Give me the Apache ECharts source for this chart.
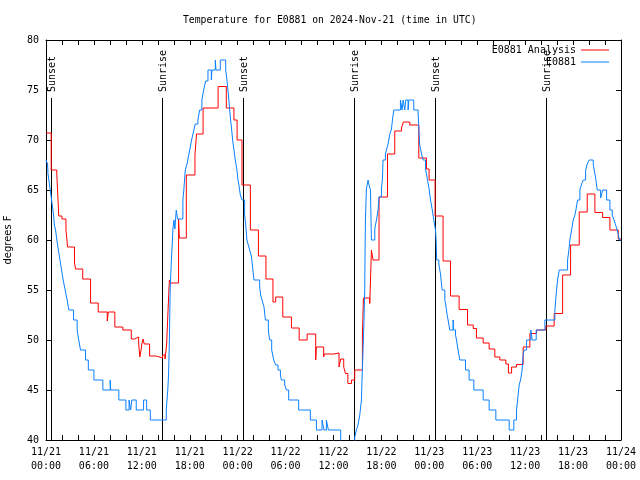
<!DOCTYPE html>
<html>
<head>
<meta charset="utf-8">
<script src="https://cdn.jsdelivr.net/npm/echarts@6.0.0/dist/echarts.min.js"></script>
<style>html,body{margin:0;padding:0;background:#fff}#c{width:640px;height:480px}</style>
</head>
<body>
<div id="c"></div>
<script>
// ---- data (hours since 2024-11-21 00:00 UTC, degrees F) ----
const analysisTimes = [0, 0.65, 1.35, 1.6, 2.0, 2.5, 2.62, 2.7, 3.57, 3.7, 4.6, 5.58, 6.54, 7.67, 7.8, 8.62, 9.62, 10.68, 11.09, 11.6, 11.75, 11.9, 12.0, 12.15, 12.3, 12.97, 13.8, 14.6, 14.9, 15.1, 15.3, 15.45, 15.65, 16.6, 16.7, 17.57, 18.65, 18.85, 19.67, 21.55, 22.58, 23.53, 23.93, 24.54, 25.59, 26.6, 27.54, 28.42, 28.76, 29.65, 30.73, 31.7, 32.7, 33.77, 33.85, 34.77, 34.85, 36.03, 36.69, 36.9, 37.28, 37.5, 37.8, 38.25, 38.66, 39.62, 39.75, 40.54, 40.75, 40.95, 41.7, 42.76, 43.67, 44.51, 44.75, 45.55, 46.68, 47.64, 47.97, 48.72, 49.72, 50.65, 51.73, 52.78, 53.5, 53.9, 54.74, 55.49, 56.2, 56.83, 57.58, 57.9, 58.3, 58.92, 59.75, 60.59, 61.43, 62.59, 63.63, 64.69, 65.69, 66.77, 67.77, 68.73, 69.7, 70.61, 71.65, 72];
const analysisTemps = [70.7, 67.0, 66.6, 62.4, 62.1, 61.0, 60.0, 59.3, 57.7, 57.1, 56.1, 53.7, 52.8, 51.9, 52.8, 51.3, 51.0, 50.1, 50.3, 49.7, 48.3, 49.0, 49.6, 50.1, 49.6, 48.4, 48.2, 48.5, 48.1, 49.5, 53.3, 56.0, 55.7, 62.1, 60.2, 66.5, 68.5, 70.6, 73.2, 75.35, 73.2, 72.0, 70.0, 65.5, 61.0, 58.4, 56.1, 53.8, 54.3, 52.3, 51.2, 50.0, 50.6, 48.0, 49.3, 48.3, 48.6, 48.7, 47.3, 48.1, 47.3, 46.65, 45.65, 46.0, 47.0, 50.6, 54.2, 53.65, 59.0, 58.0, 64.3, 68.6, 70.9, 71.2, 71.8, 71.5, 68.2, 67.1, 66.0, 62.4, 57.9, 54.4, 53.05, 51.5, 51.15, 50.2, 49.7, 49.1, 48.3, 48.0, 47.6, 46.7, 47.3, 47.55, 49.3, 50.65, 51.0, 51.4, 52.65, 56.5, 59.5, 62.8, 64.6, 62.75, 62.25, 61.0, 60.1, 60.1];

const obsTimes = [0, 0.2, 0.25, 0.45, 0.6, 0.75, 0.95, 1.05, 1.2, 1.36, 1.55, 1.75, 1.95, 2.15, 2.4, 2.65, 2.86, 3.45, 3.9, 4.1, 4.32, 4.95, 5.3, 6.0, 7.12, 8.04, 8.1, 9.12, 10.0, 10.4, 10.6, 10.75, 11.3, 12.22, 12.6, 13.06, 15.06, 15.15, 15.25, 15.35, 15.45, 15.55, 15.7, 15.8, 15.89, 16.02, 16.14, 16.31, 16.48, 17.14, 17.27, 17.44, 17.57, 17.69, 17.9, 18.07, 18.23, 18.4, 18.52, 18.69, 19.02, 19.24, 19.52, 19.74, 19.99, 20.28, 20.7, 20.78, 21.2, 21.28, 21.83, 22.5, 22.66, 22.78, 22.9, 23.0, 23.12, 23.25, 23.37, 23.54, 23.7, 23.91, 24.04, 24.16, 24.33, 24.54, 24.87, 25.0, 25.16, 25.33, 25.5, 25.71, 25.83, 25.91, 26.04, 26.75, 26.88, 27.05, 27.3, 27.47, 27.84, 28.0, 28.26, 28.51, 28.76, 29.05, 29.35, 29.47, 29.89, 30.1, 30.39, 31.64, 33.1, 33.86, 34.56, 34.81, 35.11, 35.36, 36.9, 38.66, 38.87, 39.07, 39.29, 39.5, 39.57, 39.7, 39.82, 39.91, 39.96, 40.0, 40.12, 40.33, 40.45, 40.63, 40.75, 41.17, 41.38, 41.58, 41.7, 42.0, 42.13, 42.2, 42.5, 42.63, 42.83, 43.05, 43.26, 43.38, 43.55, 44.38, 44.59, 44.72, 44.92, 45.05, 45.34, 45.43, 46.05, 46.6, 46.72, 46.8, 47.02, 47.22, 47.52, 47.64, 47.77, 47.97, 48.15, 48.35, 48.56, 48.77, 48.85, 48.92, 49.19, 49.4, 49.52, 49.6, 49.94, 50.06, 50.23, 50.35, 50.56, 50.98, 51.02, 51.28, 51.4, 51.6, 51.82, 52.53, 52.98, 53.57, 54.74, 55.49, 56.33, 58.0, 58.58, 58.92, 59.05, 59.25, 59.42, 59.62, 59.75, 59.87, 60.18, 60.71, 60.88, 61.38, 62.47, 63.72, 63.93, 64.06, 64.26, 65.31, 65.48, 65.6, 65.81, 66.02, 66.23, 66.35, 66.56, 66.85, 67.07, 67.27, 67.57, 67.77, 68.02, 68.52, 68.65, 68.86, 69.02, 69.45, 69.7, 70.2, 70.61, 70.9, 71.12, 71.37, 71.62, 71.8, 72];
const obsTemps = [68.0, 67.6, 66.6, 65.5, 64.6, 63.7, 62.5, 61.5, 61.0, 60.0, 59.0, 58.0, 57.0, 56.0, 55.0, 54.0, 53.0, 52.0, 51.0, 50.0, 49.0, 48.0, 47.0, 46.0, 45.0, 46.0, 45.0, 44.0, 43.0, 44.0, 43.0, 44.0, 43.0, 44.0, 43.0, 42.0, 43.0, 44.0, 45.0, 46.6, 50.0, 55.0, 58.0, 59.5, 61.1, 62.0, 61.1, 63.0, 62.1, 64.0, 65.1, 67.0, 67.1, 67.7, 68.6, 69.3, 70.0, 70.6, 71.0, 71.6, 72.0, 73.0, 74.0, 75.0, 75.9, 77.0, 76.0, 77.0, 78.0, 77.0, 78.0, 77.0, 76.0, 75.0, 74.0, 73.0, 72.0, 71.0, 70.0, 69.0, 68.0, 67.0, 66.0, 65.5, 64.5, 64.0, 62.5, 61.6, 60.0, 59.5, 59.0, 58.4, 57.6, 57.0, 56.0, 55.3, 54.5, 54.0, 53.3, 52.0, 51.0, 50.0, 49.0, 48.0, 47.5, 47.0, 46.5, 46.0, 45.5, 45.0, 44.0, 43.0, 42.0, 41.0, 42.0, 41.0, 42.0, 41.0, 39.5, 40.3, 41.0, 41.5, 42.5, 44.0, 46.0, 49.0, 52.0, 55.0, 59.6, 62.0, 65.1, 66.0, 65.5, 65.0, 60.0, 61.1, 62.0, 63.0, 64.3, 65.1, 66.1, 68.0, 68.6, 69.0, 69.6, 70.6, 71.1, 72.0, 73.0, 74.0, 73.0, 74.0, 73.0, 74.0, 73.0, 74.0, 73.0, 72.6, 70.6, 69.5, 68.6, 68.0, 67.1, 66.6, 66.0, 65.1, 64.0, 63.1, 62.0, 61.0, 60.0, 58.0, 57.6, 56.6, 55.6, 55.0, 54.0, 53.5, 52.5, 52.0, 51.0, 52.0, 51.0, 50.5, 50.0, 49.0, 48.0, 47.0, 46.0, 45.0, 44.0, 43.0, 42.0, 41.0, 42.0, 43.0, 44.0, 45.5, 46.0, 47.0, 48.6, 49.0, 50.0, 51.0, 50.0, 51.0, 52.0, 53.0, 55.0, 56.0, 57.0, 58.0, 59.0, 60.0, 61.0, 62.0, 62.5, 63.0, 64.0, 65.0, 65.6, 66.0, 67.0, 67.6, 68.0, 67.6, 67.0, 66.0, 65.0, 64.2, 65.0, 64.0, 63.0, 62.5, 62.0, 61.4, 60.7, 60.0, 60.0];

const sunTimes = [0.65, 14.5, 24.67, 38.57, 48.77, 62.63];
const sunLabels = ['Sunset', 'Sunrise', 'Sunset', 'Sunrise', 'Sunset', 'Sunrise'];

const xTickLabels = ['11/21\n00:00','11/21\n06:00','11/21\n12:00','11/21\n18:00',
                     '11/22\n00:00','11/22\n06:00','11/22\n12:00','11/22\n18:00',
                     '11/23\n00:00','11/23\n06:00','11/23\n12:00','11/23\n18:00','11/24\n00:00'];

const seriesNames = ['E0881 Analysis', 'E0881'];
const titleText = 'Temperature for E0881 on 2024-Nov-21 (time in UTC)';

// ---- chart ----
const MONO = '"DejaVu Sans Mono", "Liberation Mono", monospace';
const sunLineTop = 74.2;
const chart = echarts.init(document.getElementById('c'), null, {renderer: 'canvas'});

const pair = (ts, vs) => ts.map((t, i) => [t, vs[i]]);

const tickCommon = {show: true, inside: true, length: 5, lineStyle: {color: '#000', width: 1}};
const xCommon = {
  type: 'value', min: 0, max: 72, interval: 6,
  axisLine: {show: true, onZero: false, lineStyle: {color: '#000', width: 1}},
  axisTick: tickCommon,
  minorTick: {show: true, splitNumber: 3, length: 5, lineStyle: {color: '#000', width: 1}},
  splitLine: {show: false}, minorSplitLine: {show: false}
};
const yCommon = {
  type: 'value', min: 40, max: 80, interval: 5,
  axisLine: {show: true, onZero: false, lineStyle: {color: '#000', width: 1}},
  axisTick: tickCommon,
  splitLine: {show: false}
};

chart.setOption({
  animation: false,
  backgroundColor: '#fff',
  title: {
    text: titleText, left: 183, top: 14, padding: 0,
    textStyle: {fontFamily: MONO, fontSize: 9.75, fontWeight: 'normal', color: '#000', lineHeight: 12}
  },
  legend: [
    {data: [seriesNames[0]], right: 31, top: 44, padding: 0, align: 'right', icon: 'rect',
     itemWidth: 28, itemHeight: 1, selectedMode: false,
     textStyle: {fontFamily: MONO, fontSize: 10, color: '#000', lineHeight: 12}},
    {data: [seriesNames[1]], right: 31, top: 56, padding: 0, align: 'right', icon: 'rect',
     itemWidth: 28, itemHeight: 1, selectedMode: false,
     textStyle: {fontFamily: MONO, fontSize: 10, color: '#000', lineHeight: 12}}
  ],
  grid: {left: 46, right: 19, top: 40, bottom: 40, containLabel: false, outerBoundsMode: 'none'},
  xAxis: [
    Object.assign({}, xCommon, {
      position: 'bottom',
      axisLabel: {
        show: true, margin: 6, showMinLabel: true, showMaxLabel: true, hideOverlap: false,
        fontFamily: MONO, fontSize: 10, color: '#000', lineHeight: 13.5,
        formatter: v => xTickLabels[Math.round(v / 6)]
      }
    }),
    Object.assign({}, xCommon, {position: 'top', axisLabel: {show: false}})
  ],
  yAxis: [
    Object.assign({}, yCommon, {
      position: 'left',
      name: 'degrees F', nameLocation: 'middle', nameGap: 33, nameRotate: 90,
      nameTextStyle: {fontFamily: '"DejaVu Sans", sans-serif', fontSize: 10, color: '#000'},
      axisLabel: {show: true, margin: 7, fontFamily: MONO, fontSize: 10, color: '#000'}
    }),
    Object.assign({}, yCommon, {position: 'right', axisLabel: {show: false}})
  ],
  series: [
    {
      name: seriesNames[0], type: 'line', step: 'end', showSymbol: false, symbol: 'none',
      data: pair(analysisTimes, analysisTemps), clip: true,
      lineStyle: {color: '#ff0000', width: 1}, itemStyle: {color: '#ff0000'}
    },
    {
      name: seriesNames[1], type: 'line', step: 'end', showSymbol: false, symbol: 'none',
      data: pair(obsTimes, obsTemps), clip: true,
      lineStyle: {color: '#0a80ff', width: 1}, itemStyle: {color: '#0a80ff'}
    },
    {
      type: 'custom', silent: true, clip: false,
      data: sunTimes.map((t, i) => [t, i]),
      renderItem: (params, api) => {
        const t = api.value(0);
        const label = sunLabels[api.value(1)];
        const p0 = api.coord([t, 40]);
        const p1 = api.coord([t, sunLineTop]);
        const x = Math.round(p0[0]) + 0.5;
        return {
          type: 'group',
          children: [
            {type: 'line', shape: {x1: x, y1: p0[1], x2: x, y2: p1[1]},
             style: {stroke: '#000', lineWidth: 1}},
            {type: 'text', x: x + 1, y: p1[1] - 6, rotation: Math.PI / 2,
             style: {text: label, fill: '#000', font: '10px ' + MONO,
                     align: 'left', verticalAlign: 'middle',
                     textAlign: 'left', textVerticalAlign: 'middle'}}
          ]
        };
      }
    }
  ]
});
</script>
</body>
</html>
